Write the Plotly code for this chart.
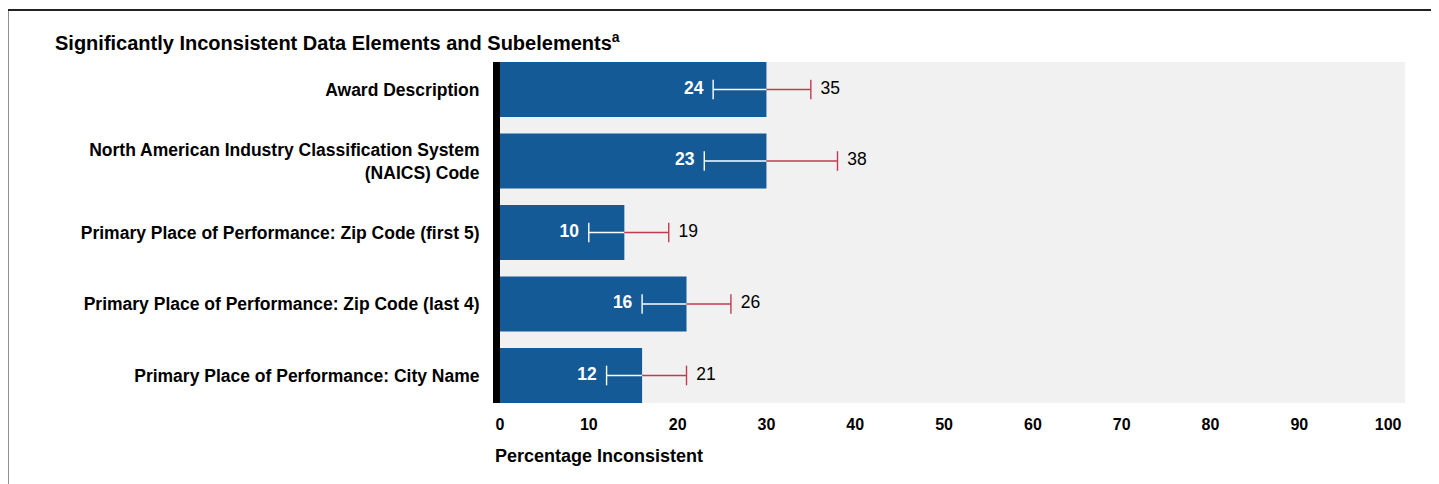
import plotly.graph_objects as go

categories = [
    "Award Description",
    "North American Industry Classification System<br>(NAICS) Code",
    "Primary Place of Performance: Zip Code (first 5)",
    "Primary Place of Performance: Zip Code (last 4)",
    "Primary Place of Performance: City Name",
]
estimates = [30, 30, 14, 21, 16]
lower_bounds = [24, 23, 10, 16, 12]
upper_bounds = [35, 38, 19, 26, 21]
x_ticks = [0, 10, 20, 30, 40, 50, 60, 70, 80, 90, 100]

BLUE = "#145A96"
RED = "#C33B50"
FONT = "Liberation Sans, Arial, sans-serif"

fig = go.Figure()

fig.add_trace(go.Bar(
    x=estimates, y=categories, orientation="h",
    marker=dict(color=BLUE, line=dict(width=0)),
    hoverinfo="skip", showlegend=False,
))

# interval: white part (lower bound -> estimate), red part (estimate -> upper bound)
wx, wy, rx, ry = [], [], [], []
for c, lo, est, hi in zip(categories, lower_bounds, estimates, upper_bounds):
    wx += [lo, est, None]
    wy += [c, c, None]
    rx += [est, hi, None]
    ry += [c, c, None]

fig.add_trace(go.Scatter(x=wx, y=wy, mode="lines", line=dict(color="white", width=1.4),
                         showlegend=False, hoverinfo="skip"))
fig.add_trace(go.Scatter(x=rx, y=ry, mode="lines", line=dict(color=RED, width=1.4),
                         showlegend=False, hoverinfo="skip"))

fig.add_trace(go.Scatter(
    x=lower_bounds, y=categories, mode="markers+text",
    marker=dict(symbol="line-ns", size=14, line=dict(color="white", width=1.4)),
    text=[str(v) for v in lower_bounds], textposition="middle left",
    textfont=dict(family=FONT, size=17.5, color="white", weight="bold"),
    showlegend=False, hoverinfo="skip",
))
fig.add_trace(go.Scatter(
    x=upper_bounds, y=categories, mode="markers+text",
    marker=dict(symbol="line-ns", size=14, line=dict(color=RED, width=1.4)),
    text=[str(v) for v in upper_bounds], textposition="middle right",
    textfont=dict(family=FONT, size=17.5, color="black"),
    showlegend=False, hoverinfo="skip",
))

# page body adds an 8px offset; layout is expressed in screen pixels minus that offset
OFF = 8
W, H = 1439 - OFF, 484 - OFF
L, R, T, B = 500 - OFF, 34, 62 - OFF, 81
pw = W - L - R
ph = H - T - B


def px(x):
    return (x - OFF - L) / pw


def py(y):
    return 1 - (y - OFF - T) / ph


fig.update_layout(
    width=W, height=H,
    margin=dict(l=L, r=R, t=T, b=B),
    paper_bgcolor="white", plot_bgcolor="#F1F1F1",
    bargap=0.23,
    font=dict(family=FONT, color="black"),
    xaxis=dict(range=[0, 101.9], tickvals=x_ticks, showgrid=False, zeroline=False,
               showline=False, ticks="", tickfont=dict(size=16, weight="bold"),
               ticklabelstandoff=10),
    yaxis=dict(range=[4.385, -0.385], showgrid=False, zeroline=False,
               showline=True, linecolor="black", linewidth=7, ticks="",
               tickfont=dict(size=17.5, weight="bold"), ticklabelstandoff=10),
    annotations=[
        dict(text="Significantly Inconsistent Data Elements and Subelements<sup>a</sup>",
             xref="paper", yref="paper", x=px(53), y=py(41), xanchor="left", yanchor="middle",
             showarrow=False, font=dict(size=20, weight="bold")),
        dict(text="Percentage Inconsistent",
             xref="paper", yref="paper", x=px(493), y=py(456), xanchor="left", yanchor="middle",
             showarrow=False, font=dict(size=18, weight="bold")),
    ],
    shapes=[
        dict(type="line", xref="paper", yref="paper", x0=px(7.5), x1=px(7.5), y0=py(9), y1=py(490),
             line=dict(color="#222", width=2)),
        dict(type="line", xref="paper", yref="paper", x0=px(7), x1=px(1445), y0=py(10), y1=py(10),
             line=dict(color="#222", width=2)),
    ],
)

fig.write_html("out.html")
